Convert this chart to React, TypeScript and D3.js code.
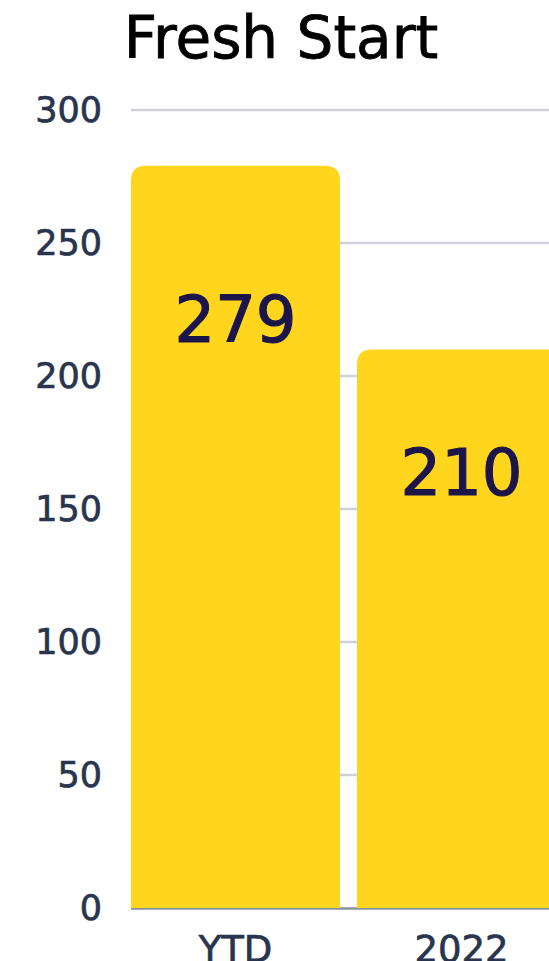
import { useEffect, useRef } from 'react';
import * as d3 from 'd3';

const categories = ['YTD', '2022'];
const values = [279, 210];
const yTicks = [0, 50, 100, 150, 200, 250, 300];
const title = 'Fresh Start';

const W = 549;
const H = 961;
const FONT = '"DejaVu Sans", sans-serif';

function topRoundedBar(x: number, y: number, w: number, h: number, r: number) {
    const rr = Math.min(r, w / 2, h);
    return `M${x},${y + h}V${y + rr}Q${x},${y} ${x + rr},${y}H${x + w - rr}Q${x + w},${y} ${x + w},${y + rr}V${y + h}Z`;
}

export default function App() {
    const ref = useRef<SVGSVGElement | null>(null);

    useEffect(() => {
        if (!ref.current) return;
        const svg = d3.select(ref.current);
        svg.selectAll('*').remove();

        const x = d3.scaleBand().domain(categories).range([131, 566]).paddingInner(0.075).paddingOuter(0);
        const y = d3.scaleLinear().domain([0, 300]).range([908, 110]);

        // gridlines
        svg.append('g')
            .selectAll('line')
            .data(yTicks.filter(t => t > 0))
            .join('line')
            .attr('x1', 131)
            .attr('x2', 600)
            .attr('y1', d => y(d))
            .attr('y2', d => y(d))
            .attr('stroke', '#cfd0d8')
            .attr('stroke-width', 2.5);

        // baseline
        svg.append('line')
            .attr('x1', 131)
            .attr('x2', 600)
            .attr('y1', y(0) + 0.5)
            .attr('y2', y(0) + 0.5)
            .attr('stroke', '#8b909e')
            .attr('stroke-width', 2.5);

        // bars
        svg.append('g')
            .selectAll('path')
            .data(values)
            .join('path')
            .attr('d', (d, i) => topRoundedBar(x(categories[i])!, y(d), x.bandwidth(), y(0) - y(d), 15))
            .attr('fill', '#ffd51e');

        // value labels
        svg.append('g')
            .selectAll('text')
            .data(values)
            .join('text')
            .attr('x', (_, i) => x(categories[i])! + x.bandwidth() / 2)
            .attr('y', d => {
                const h = y(0) - y(d);
                return y(d) + 33 + 0.163 * h;
            })
            .attr('text-anchor', 'middle')
            .attr('dominant-baseline', 'central')
            .attr('font-family', FONT)
            .attr('font-size', 64)
            .attr('fill', '#1b1549')
            .attr('stroke', '#1b1549')
            .attr('stroke-width', 1.2)
            .text(d => String(d));

        // y tick labels
        svg.append('g')
            .selectAll('text')
            .data(yTicks)
            .join('text')
            .attr('x', 102)
            .attr('y', d => y(d))
            .attr('text-anchor', 'end')
            .attr('dominant-baseline', 'central')
            .attr('font-family', FONT)
            .attr('font-size', 35)
            .attr('fill', '#29344e')
            .attr('stroke', '#29344e')
            .attr('stroke-width', 0.7)
            .text(d => String(d));

        // x tick labels
        svg.append('g')
            .selectAll('text')
            .data(categories)
            .join('text')
            .attr('x', d => x(d)! + x.bandwidth() / 2)
            .attr('y', 962)
            .attr('text-anchor', 'middle')
            .attr('font-family', FONT)
            .attr('font-size', 37)
            .attr('fill', '#29344e')
            .attr('stroke', '#29344e')
            .attr('stroke-width', 0.7)
            .text(d => d);

        // title
        svg.append('text')
            .attr('x', 281)
            .attr('y', 58)
            .attr('text-anchor', 'middle')
            .attr('font-family', FONT)
            .attr('font-size', 58)
            .attr('fill', '#000')
            .attr('stroke', '#000')
            .attr('stroke-width', 0.8)
            .text(title);
    }, []);

    return (
        <svg
            ref={ref}
            width={W}
            height={H}
            style={{ position: 'absolute', left: 0, top: 0, overflow: 'hidden', background: '#fff' }}
        />
    );
}
